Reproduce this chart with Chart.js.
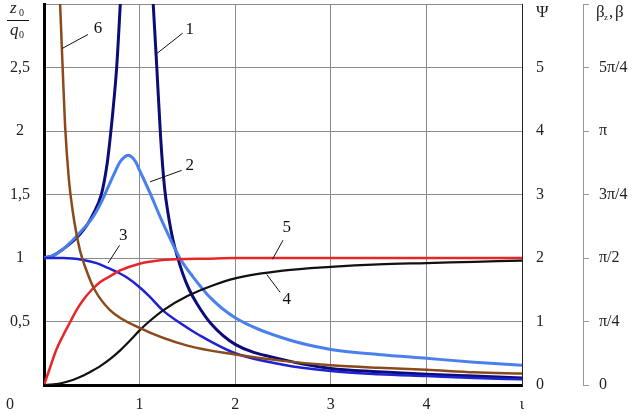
<!DOCTYPE html>
<html>
<head>
<meta charset="utf-8">
<script src="https://cdn.jsdelivr.net/npm/chart.js@4.4.0/dist/chart.umd.min.js"></script>
<style>
html, body { margin: 0; padding: 0; background: #fff; }
</style>
</head>
<body>
<canvas id="myChart" width="641" height="415"></canvas>
<script>
// curve 1 (two branches, gap at the resonance)
const iota1 = [0, 0.1, 0.2, 0.3, 0.38, 0.45, 0.51, 0.6, 0.66, 0.69, 0.72, 0.76, 0.8, 0.83, 0.97, 1.1, 1.14, 1.18, 1.22, 1.26, 1.3, 1.35, 1.45, 1.52, 1.6, 1.75, 2, 2.5, 3, 3.5, 4, 4.5, 5];
const curve1 = [1.0, 1.02, 1.07, 1.13, 1.19, 1.26, 1.34, 1.5, 1.74, 1.93, 2.15, 2.5, 3.03, 3.5, null, 3.5, 3.03, 2.5, 1.95, 1.56, 1.34, 1.14, 0.88, 0.75, 0.64, 0.48, 0.32, 0.2, 0.13, 0.105, 0.085, 0.07, 0.055];
// curve 2
const iota2 = [0, 0.1, 0.2, 0.3, 0.4, 0.51, 0.6, 0.66, 0.72, 0.79, 0.84, 0.88, 0.92, 0.96, 1.0, 1.11, 1.2, 1.29, 1.42, 1.56, 1.75, 2, 2.5, 3, 3.5, 4, 4.5, 5];
const curve2 = [1.0, 1.02, 1.07, 1.14, 1.22, 1.32, 1.44, 1.54, 1.64, 1.75, 1.795, 1.81, 1.795, 1.755, 1.69, 1.51, 1.35, 1.2, 1.0, 0.85, 0.68, 0.53, 0.37, 0.28, 0.24, 0.21, 0.18, 0.155];
// curve 3
const iota3 = [0, 0.2, 0.41, 0.55, 0.66, 0.79, 0.86, 1.0, 1.1, 1.24, 1.42, 1.63, 2, 2.5, 3, 3.5, 4, 4.5, 5];
const curve3 = [1.0, 1.0, 0.985, 0.96, 0.925, 0.88, 0.85, 0.77, 0.7, 0.59, 0.49, 0.39, 0.25, 0.16, 0.11, 0.085, 0.07, 0.055, 0.045];
// curve 4
const iota4 = [0, 0.1, 0.2, 0.3, 0.4, 0.5, 0.6, 0.7, 0.8, 0.9, 1.0, 1.1, 1.25, 1.5, 1.75, 2, 2.5, 3, 3.5, 4, 4.5, 5];
const curve4 = [0, 0.005, 0.018, 0.04, 0.07, 0.11, 0.155, 0.21, 0.275, 0.35, 0.43, 0.5, 0.59, 0.7, 0.78, 0.84, 0.9, 0.93, 0.95, 0.96, 0.97, 0.98];
// curve 5
const iota5 = [0, 0.06, 0.13, 0.2, 0.27, 0.34, 0.41, 0.5, 0.585, 0.7, 0.79, 1.0, 1.2, 1.4, 1.7, 2, 3, 4, 5];
const curve5 = [0, 0.13, 0.28, 0.39, 0.49, 0.59, 0.67, 0.75, 0.81, 0.86, 0.9, 0.955, 0.98, 0.99, 0.995, 1.0, 1.0, 1.0, 1.0];
// curve 6
const iota6 = [0.15, 0.167, 0.195, 0.22, 0.26, 0.3, 0.376, 0.45, 0.53, 0.69, 1.0, 1.5, 2, 2.5, 3, 3.5, 4, 4.5, 5];
const curve6 = [3.4, 3.03, 2.5, 2.05, 1.62, 1.37, 1.06, 0.89, 0.75, 0.59, 0.45, 0.31, 0.24, 0.19, 0.155, 0.135, 0.12, 0.1, 0.09];

const xTicks = [0, 1, 2, 3, 4, 5];
const xTickLabels = ['', '1', '2', '3', '4', 'ι'];
const psiTickLabels = ['0', '1', '2', '3', '4', '5', ''];
const betaTickLabels = ['0', 'π/4', 'π/2', '3π/4', 'π', '5π/4', ''];

// curve number labels: [text, label x, label y, leader from x, y, leader to x, y] in data units
const curveLabels = [
    ['6', 0.565, 2.81, 0.19, 2.65, 0.46, 2.76],
    ['1', 1.525, 2.8, 1.18, 2.61, 1.45, 2.77],
    ['2', 1.525, 1.73, 1.11, 1.6, 1.44, 1.69],
    ['3', 0.83, 1.18, 0.67, 0.96, 0.79, 1.1],
    ['5', 2.54, 1.24, 2.39, 0.99, 2.5, 1.14],
    ['4', 2.54, 0.67, 2.33, 0.87, 2.47, 0.73]
];

function pts(xs, ys) {
    return xs.map((x, i) => ({x: x, y: ys[i]}));
}

const serif = "'Liberation Serif', 'DejaVu Serif', serif";

const labelPlugin = {
    id: 'labels',
    afterDraw(chart) {
        const ctx = chart.ctx;
        const sx = chart.scales.x, sy = chart.scales.y;
        ctx.save();
        ctx.fillStyle = '#111';
        ctx.strokeStyle = '#111';
        ctx.lineWidth = 1;
        ctx.textBaseline = 'middle';
        ctx.textAlign = 'center';
        ctx.font = '17px ' + serif;
        curveLabels.forEach(l => {
            ctx.beginPath();
            ctx.moveTo(sx.getPixelForValue(l[3]), sy.getPixelForValue(l[4]));
            ctx.lineTo(sx.getPixelForValue(l[5]), sy.getPixelForValue(l[6]));
            ctx.stroke();
            ctx.fillText(l[0], sx.getPixelForValue(l[1]), sy.getPixelForValue(l[2]));
        });

        // corner zero
        ctx.font = '16px ' + serif;
        ctx.fillStyle = '#222';
        ctx.fillText('0', 10, 405);

        // left title z0 / q0
        ctx.textAlign = 'left';
        ctx.font = 'italic 17px ' + serif;
        ctx.fillText('z', 10, 9);
        ctx.fillText('q', 10, 31);
        ctx.font = '10px ' + serif;
        ctx.fillText('0', 19, 13);
        ctx.fillText('0', 19, 35);
        ctx.beginPath();
        ctx.moveTo(7, 20.5);
        ctx.lineTo(29, 20.5);
        ctx.stroke();

        // psi title
        ctx.font = '17px ' + serif;
        ctx.fillText('Ψ', 536, 13);

        // beta title
        ctx.fillText('β', 596, 13);
        ctx.font = '9px ' + serif;
        ctx.fillText('z', 604, 18);
        ctx.font = '17px ' + serif;
        ctx.fillText(',', 609, 13);
        ctx.fillText('β', 615, 13);
        ctx.restore();
    }
};

function ds(xs, ys, color, width) {
    return {
        data: pts(xs, ys),
        borderColor: color,
        borderWidth: width,
        pointRadius: 0,
        fill: false,
        cubicInterpolationMode: 'monotone',
        spanGaps: false,
        yAxisID: 'y'
    };
}

function noPad(s) {
    s.paddingTop = 0;
    s.paddingBottom = 0;
    s.paddingLeft = 0;
    s.paddingRight = 0;
}

new Chart("myChart", {
    type: "line",
    data: {
        datasets: [
            ds(iota6, curve6, '#8a4a1e', 2.5),
            ds(iota4, curve4, '#111111', 2.2),
            ds(iota5, curve5, '#e8262a', 2.5),
            ds(iota3, curve3, '#1e22d2', 2.5),
            ds(iota2, curve2, '#4a80ee', 3),
            ds(iota1, curve1, '#0c0c78', 3)
        ]
    },
    options: {
        responsive: false,
        animation: false,
        layout: {padding: {top: 4, left: 0, right: 0, bottom: 0}},
        plugins: {
            legend: {display: false},
            tooltip: {enabled: false}
        },
        scales: {
            x: {
                type: 'linear',
                min: 0,
                max: 5,
                afterBuildTicks: s => { s.ticks = xTicks.map(v => ({value: v})); },
                afterFit: s => { s.height = 30; noPad(s); },
                grid: {color: '#8a8a8a', lineWidth: 1, drawTicks: false},
                border: {color: '#000', width: 3},
                ticks: {
                    padding: 10,
                    color: '#222',
                    font: {family: serif, size: 16},
                    callback: v => xTickLabels[xTicks.indexOf(v)]
                }
            },
            y: {
                position: 'left',
                min: 0,
                max: 3,
                afterFit: s => { s.width = 44; noPad(s); },
                grid: {color: '#8a8a8a', lineWidth: 1, drawTicks: false},
                border: {color: '#000', width: 3},
                ticks: {
                    stepSize: 0.5,
                    padding: 14,
                    crossAlign: 'center',
                    color: '#222',
                    font: {family: serif, size: 16},
                    callback: v => (v === 0 || v === 3) ? '' : String(v).replace('.', ',')
                }
            },
            psi: {
                position: 'right',
                weight: 0,
                min: 0,
                max: 6,
                afterFit: s => { s.width = 61; noPad(s); },
                grid: {display: false, drawTicks: false},
                border: {display: true, color: '#222', width: 1},
                ticks: {
                    stepSize: 1,
                    padding: 14,
                    color: '#222',
                    font: {family: serif, size: 16},
                    callback: v => psiTickLabels[v]
                }
            },
            beta: {
                position: 'right',
                weight: 1,
                min: 0,
                max: 6,
                afterFit: s => { s.width = 58; noPad(s); },
                grid: {display: true, drawOnChartArea: false, drawTicks: true, tickLength: 6, color: '#999'},
                border: {display: true, color: '#999', width: 1},
                ticks: {
                    stepSize: 1,
                    padding: 10,
                    color: '#222',
                    font: {family: serif, size: 16},
                    callback: v => betaTickLabels[v]
                }
            }
        }
    },
    plugins: [labelPlugin]
});
</script>
</body>
</html>
